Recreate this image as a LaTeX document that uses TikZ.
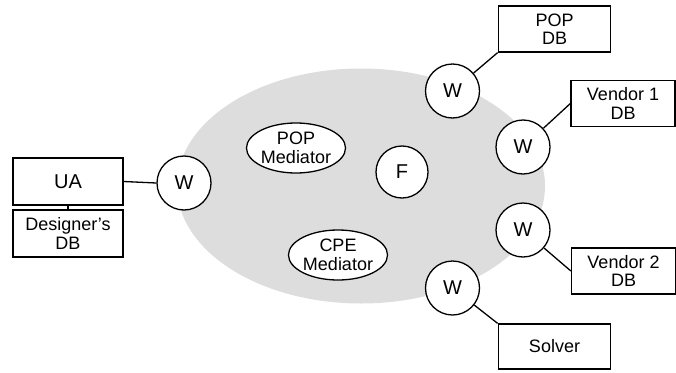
\documentclass[tikz,border=0pt]{standalone}
\usepackage{fontspec}
\setmainfont{Liberation Sans}
\usetikzlibrary{shapes.geometric}
\definecolor{cloud}{RGB}{221,221,221}
\begin{document}
\begin{tikzpicture}[x=1pt,y=-1pt,
  every node/.style={font=\fontsize{18}{18.5}\selectfont, align=center, inner sep=0pt, line width=1.3pt},
  box/.style={draw, rectangle, fill=white},
  wnode/.style={draw, circle, fill=white, minimum size=54pt, font=\fontsize{20}{22}\selectfont},
  med/.style={draw, ellipse, fill=white, minimum width=88pt, minimum height=50pt},
  conn/.style={line width=1.3pt}]
\useasboundingbox (0,0) rectangle (676,372);
\fill[cloud] (361,186) ellipse [x radius=184, y radius=117.5];

\node[box, minimum width=110pt, minimum height=47pt, font=\fontsize{20}{22}\selectfont] (ua) at (68,181.5) {UA};
\node[box, minimum width=110pt, minimum height=47pt] (ddb) at (68,233.5) {Designer’s\\DB};
\node[box, minimum width=112.5pt, minimum height=46pt] (popdb) at (554.5,29) {POP\\DB};
\node[box, minimum width=104pt, minimum height=46.5pt] (v1) at (623,103.5) {Vendor 1\\DB};
\node[box, minimum width=104pt, minimum height=46pt] (v2) at (623.5,271) {Vendor 2\\DB};
\node[box, minimum width=112.5pt, minimum height=45pt] (solver) at (554.5,346.5) {Solver};

\node[wnode] (wl) at (184,183) {W};
\node[wnode] (w1) at (452.5,91) {W};
\node[wnode] (w2) at (523,147) {W};
\node[wnode] (w3) at (523,230) {W};
\node[wnode] (w4) at (452.5,288) {W};
\node[wnode, minimum size=52pt] (f) at (402,172) {F};

\node[med] (popmed) at (296,148) {POP\\Mediator};
\node[med] (cpemed) at (338,255) {CPE\\Mediator};

\draw[conn] (ua.east) -- (wl.west);
\draw[conn] (ua.south) -- (ddb.north);
\draw[conn] (popdb.south west) -- (w1);
\draw[conn] (v1.west) -- (w2);
\draw[conn] (v2.west) -- (w3);
\draw[conn] (solver.north west) -- (w4);
\end{tikzpicture}
\end{document}
